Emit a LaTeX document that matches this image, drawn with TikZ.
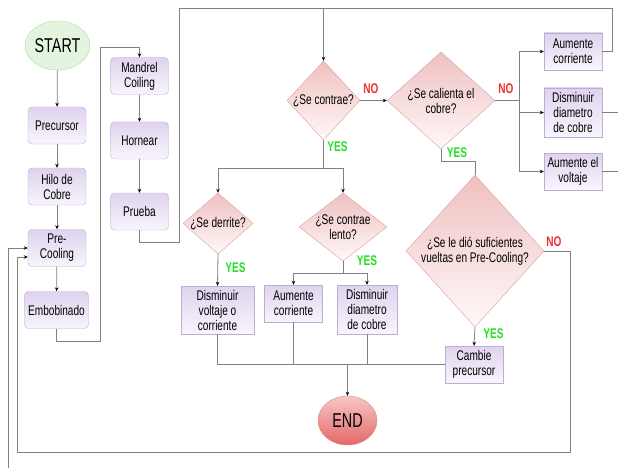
\documentclass[tikz,border=0pt]{standalone}
\usepackage{fontspec}
\setmainfont{Liberation Sans}[FakeStretch=0.72]
\usepackage{tikz}
\usetikzlibrary{arrows.meta}
\usetikzlibrary{shapes.geometric}
\definecolor{lineg}{HTML}{808080}
\definecolor{boxtop}{HTML}{DFD3EE}
\definecolor{boxbot}{HTML}{F8F5FC}
\definecolor{boxline}{HTML}{BFACD6}
\definecolor{dtop}{HTML}{F0C0C0}
\definecolor{dbot}{HTML}{FFF8F8}
\definecolor{dline}{HTML}{D6A0A0}
\definecolor{gofill}{HTML}{E4F5DF}
\definecolor{goline}{HTML}{B0DAA6}
\definecolor{endtop}{HTML}{F7C6C6}
\definecolor{endbot}{HTML}{E46868}
\definecolor{endline}{HTML}{D78686}
\definecolor{yesg}{HTML}{22E022}
\definecolor{nor}{HTML}{EE3030}
\newcommand{\boxfont}{\fontsize{14}{15}\selectfont}
\tikzset{proc/.style={draw=boxline, top color=boxtop, bottom color=boxbot,
    rounded corners=4pt, minimum width=58pt, minimum height=37pt,
    align=center, inner sep=1pt, font=\boxfont}}
\tikzset{box/.style={proc, sharp corners}}
\tikzset{decision/.style={diamond, draw=dline, top color=dtop, bottom color=dbot,
    align=center, inner sep=-8pt, font=\boxfont}}
\tikzset{term/.style={ellipse, minimum width=59pt, minimum height=49pt,
    inner sep=0pt, font=\fontsize{20}{22}\selectfont}}
\tikzset{yes/.style={text=yesg, font=\fontsize{14}{15}\selectfont\bfseries}}
\tikzset{no/.style={text=nor, font=\fontsize{14}{15}\selectfont\bfseries}}
\tikzset{line/.style={draw=lineg, line width=0.8pt}}
\tikzset{arrow/.style={line, -{Stealth[length=4pt, width=3.5pt, color=black]}}}

\begin{document}
\begin{tikzpicture}[x=1pt, y=-1pt]
        \useasboundingbox (0,0) rectangle (618,468);

        \node[term, fill=gofill, draw=goline] (start) at (57.5,45.5) {START};
        \node[proc] (precursor) at (57,125.5) {Precursor};
        \node[proc] (hilo) at (57,186.5) {Hilo de\\Cobre};
        \node[proc] (precool) at (57,248) {Pre-\\Cooling};
        \node[proc, minimum width=64pt] (embob) at (56.5,310) {Embobinado};
        \node[proc] (mandrel) at (139.5,76) {Mandrel\\Coiling};
        \node[proc] (hornear) at (139.5,140.5) {Hornear};
        \node[proc] (prueba) at (139.5,211.5) {Prueba};

        \node[decision, minimum width=73pt, minimum height=79pt] (contrae) at (323.5,100.5) {¿Se contrae?};
        \node[decision, minimum width=108pt, minimum height=97pt] (calienta) at (441,100.5) {¿Se calienta el\\cobre?};
        \node[box, minimum height=37pt] (aumc) at (573,51.5) {Aumente\\corriente};
        \node[box, minimum height=49pt] (dismd) at (573,112.5) {Disminuir\\diametro\\de cobre};
        \node[box, minimum height=37pt] (aumv) at (573,171.5) {Aumente el\\voltaje};

        \node[decision, minimum width=70pt, minimum height=61pt] (derrite) at (218,223.5) {¿Se derrite?};
        \node[decision, minimum width=88pt, minimum height=68pt] (lento) at (343,227) {¿Se contrae\\lento?};
        \node[box, minimum width=73pt, minimum height=48pt] (dismv) at (217.5,310) {Disminuir\\voltaje o\\corriente};
        \node[box, minimum height=37pt] (aumc2) at (293.5,303.5) {Aumente\\corriente};
        \node[box, minimum width=60pt, minimum height=49pt] (dismd2) at (367,309.5) {Disminuir\\diametro\\de cobre};

        \node[decision, minimum width=138pt, minimum height=152pt] (vueltas) at (475,251) {¿Se le dió suficientes\\vueltas en Pre-Cooling?};
        \node[box, minimum height=37pt] (cambie) at (474,364.5) {Cambie\\precursor};
        \node[term, top color=endtop, bottom color=endbot, draw=endline] (end) at (347.5,420.5) {END};

        \coordinate (redge) at (618,0);
        \coordinate (bedge) at (8,468);

        \draw[arrow] (start) -- (precursor);
        \draw[arrow] (precursor) -- (hilo);
        \draw[arrow] (hilo) -- (precool);
        \draw[arrow] (precool) -- (embob);
        \draw[arrow] (embob.south) -- ++(0,13) -| (100,47) -| (mandrel.north);
        \draw[arrow] (mandrel) -- (hornear);
        \draw[arrow] (hornear) -- (prueba);
        \draw[line] (prueba.south) -- ++(0,12) -| (179,8) -- (612,8) |- (aumc.east);
        \draw[arrow] (contrae.north |- 0,8) -- (contrae.north);

        \draw[arrow] (contrae.east) -- (calienta.west) node[no, pos=0.4, above=3pt] {NO};
        \draw[line] (calienta.east) -- (519,100.5) coordinate (nofork)
            node[no, pos=0.45, above=3pt] {NO};
        \draw[arrow] (nofork) |- (aumc);
        \draw[arrow] (nofork) |- (dismd);
        \draw[arrow] (nofork) |- (aumv);
        \draw[line] (dismd.east) -- (dismd.east -| redge);
        \draw[line] (aumv.east) -- (aumv.east -| redge);
        \draw[line] (calienta.south) -- ++(0,12) -| (vueltas.north);
        \node[yes] (yes1) at (457,153) {YES};

        \draw[line] (contrae.south) -- (323.5,168) coordinate (yesfork);
        \node[yes] (yes2) at (337.5,147) {YES};
        \draw[arrow] (yesfork) -| (derrite.north);
        \draw[arrow] (yesfork) -| (lento.north);
        \draw[arrow] (derrite.south) -- (dismv.north);
        \node[yes] (yes3) at (235.5,267.5) {YES};
        \draw[line] (lento.south) -- (343,273) coordinate (lentofork);
        \node[yes] (yes4) at (367,260.5) {YES};
        \draw[arrow] (lentofork) -| (aumc2.north);
        \draw[arrow] (lentofork) -| (dismd2.north);

        \draw[line] (dismv.south) |- (cambie.west);
        \draw[line] (aumc2.south) -- (aumc2.south |- cambie.west);
        \draw[line] (dismd2.south) -- (dismd2.south |- cambie.west);
        \draw[arrow] (end.north |- cambie.west) -- (end.north);

        \draw[arrow] (vueltas.south) -- (cambie.north);
        \node[yes] (yes5) at (493.5,334) {YES};
        \draw[arrow] (vueltas.east) -| (570,452) -| (17,257) -- ([yshift=-9pt]precool.west);
        \node[no] (no3) at (554,242) {NO};
        \draw[arrow] (bedge) |- (precool.west);
\end{tikzpicture}
\end{document}
